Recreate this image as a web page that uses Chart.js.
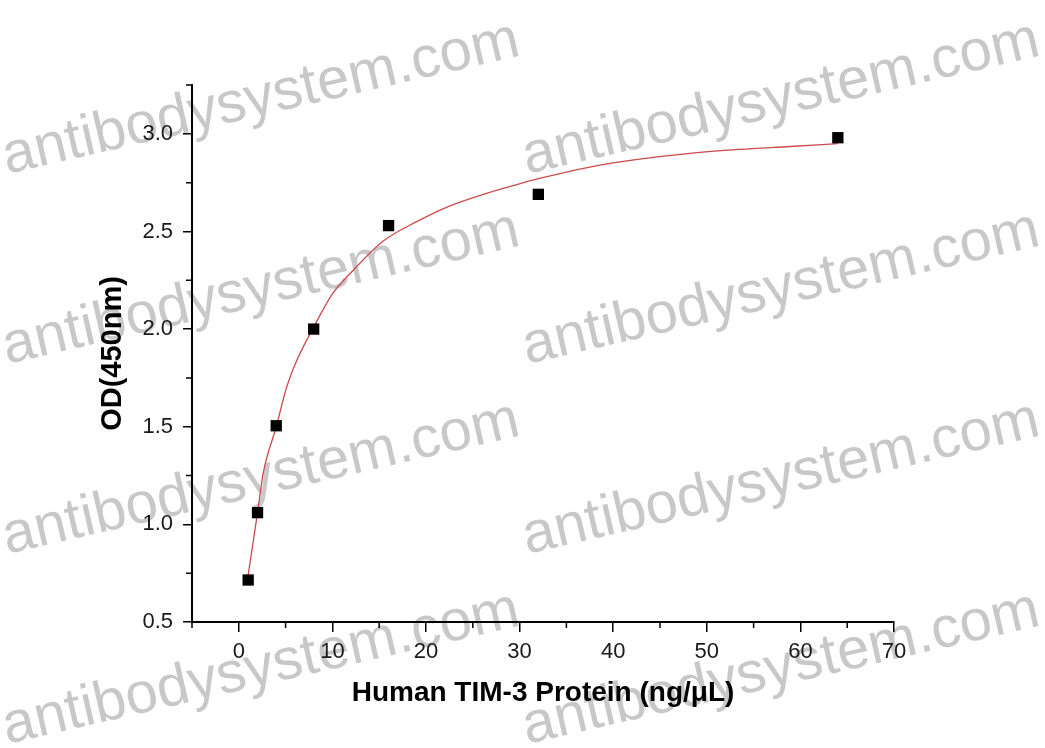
<!DOCTYPE html>
<html>
<head>
<meta charset="utf-8">
<script src="https://cdn.jsdelivr.net/npm/chart.js@4.4.1/dist/chart.umd.min.js"></script>
<style>
  html, body { margin: 0; padding: 0; background: #fff; }
  #wrap { width: 1045px; height: 748px; }
</style>
</head>
<body>
<div id="wrap"><canvas id="odChart"></canvas></div>
<script>
// measured points
const concentration = [1, 2, 4, 8, 16, 32, 64];
const odValues = [0.715, 1.06, 1.505, 2.0, 2.53, 2.69, 2.98];

// fitted curve
const fitX = [1, 2, 2.6, 4, 5.1, 6.2, 8, 10, 12.2, 15.4, 19, 22.5, 26.1, 29.7, 32, 37.5, 42.8, 48.2, 53.5, 58.9, 64];
const fitY = [0.74, 1.06, 1.26, 1.50, 1.70, 1.84, 2.01, 2.18, 2.30, 2.45, 2.55, 2.63, 2.69, 2.74, 2.77, 2.83, 2.87, 2.90, 2.92, 2.935, 2.95];

const xTicks = [0, 10, 20, 30, 40, 50, 60, 70];
const yTicks = [0.5, 1.0, 1.5, 2.0, 2.5, 3.0];
const xMinor = [-5, 5, 15, 25, 35, 45, 55, 65];
const yMinor = [0.75, 1.25, 1.75, 2.25, 2.75, 3.25];

const FONT = "'Liberation Sans', Arial, sans-serif";

// watermark behind everything
const watermark = {
  id: 'watermark',
  beforeDraw(chart) {
    const ctx = chart.ctx;
    ctx.save();
    ctx.fillStyle = '#fff';
    ctx.fillRect(0, 0, chart.width, chart.height);
    ctx.font = '58px ' + FONT;
    ctx.fillStyle = 'rgba(140,140,140,0.48)';
    ctx.textBaseline = 'alphabetic';
    [174, 364, 554, 744].forEach(y => {
      [7, 527].forEach(x => {
        ctx.save();
        ctx.translate(x, y);
        ctx.rotate(-13 * Math.PI / 180);
        ctx.fillText('antibodysystem.com', 0, 0);
        ctx.restore();
      });
    });
    ctx.restore();
  }
};

// short minor ticks outside the axes
const minorTicks = {
  id: 'minorTicks',
  afterDraw(chart) {
    const ctx = chart.ctx;
    const xs = chart.scales.x, ys = chart.scales.y;
    const area = chart.chartArea;
    ctx.save();
    ctx.strokeStyle = '#000';
    ctx.lineWidth = 1.5;
    ctx.beginPath();
    xMinor.forEach(v => {
      const px = xs.getPixelForValue(v);
      ctx.moveTo(px, area.bottom);
      ctx.lineTo(px, area.bottom + 6);
    });
    yMinor.forEach(v => {
      const py = ys.getPixelForValue(v);
      ctx.moveTo(area.left, py);
      ctx.lineTo(area.left - 6, py);
    });
    ctx.stroke();
    ctx.restore();
  }
};

new Chart(document.getElementById('odChart'), {
  type: 'scatter',
  data: {
    datasets: [{
      label: 'OD',
      data: concentration.map((c, i) => ({ x: c, y: odValues[i] })),
      pointStyle: 'rect',
      pointRadius: 8,
      backgroundColor: '#000',
      borderColor: '#000',
      borderWidth: 0,
      order: 0
    }, {
      label: 'Fit',
      type: 'line',
      data: fitX.map((c, i) => ({ x: c, y: fitY[i] })),
      borderColor: '#cc4a4a',
      borderWidth: 1.3,
      pointRadius: 0,
      fill: false,
      cubicInterpolationMode: 'monotone',
      order: 1
    }]
  },
  options: {
    responsive: true,
    maintainAspectRatio: false,
    animation: false,
    layout: { padding: { left: 0, top: 85, right: 151, bottom: 0 } },
    plugins: { legend: { display: false }, tooltip: { enabled: false } },
    scales: {
      x: {
        type: 'linear',
        min: -5,
        max: 70,
        afterBuildTicks: s => { s.ticks = xTicks.map(v => ({ value: v })); },
        afterFit: s => { s.height = 126; },
        border: { color: '#000', width: 2 },
        grid: { drawOnChartArea: false, drawTicks: true, tickLength: 10, color: '#000', lineWidth: 1.5 },
        ticks: { color: '#1a1a1a', padding: 7, font: { family: FONT, size: 22 }, callback: v => String(v), autoSkip: false, maxRotation: 0 },
        title: {
          display: true,
          text: 'Human TIM-3 Protein (ng/μL)',
          color: '#000',
          font: { family: FONT, size: 28, weight: 'bold' },
          padding: { top: 0, bottom: 38 }
        }
      },
      y: {
        type: 'linear',
        min: 0.5,
        max: 3.25,
        afterBuildTicks: s => { s.ticks = yTicks.map(v => ({ value: v })); },
        afterFit: s => { s.width = 192; },
        border: { color: '#000', width: 2 },
        grid: { drawOnChartArea: false, drawTicks: true, tickLength: 9, color: '#000', lineWidth: 1.5 },
        ticks: { color: '#1a1a1a', padding: 10, font: { family: FONT, size: 22 }, callback: v => v.toFixed(1), autoSkip: false },
        title: {
          display: true,
          text: 'OD(450nm)',
          color: '#000',
          font: { family: FONT, size: 29, weight: 'bold' },
          padding: { top: 96, bottom: 0 }
        }
      }
    }
  },
  plugins: [watermark, minorTicks]
});
</script>
</body>
</html>
